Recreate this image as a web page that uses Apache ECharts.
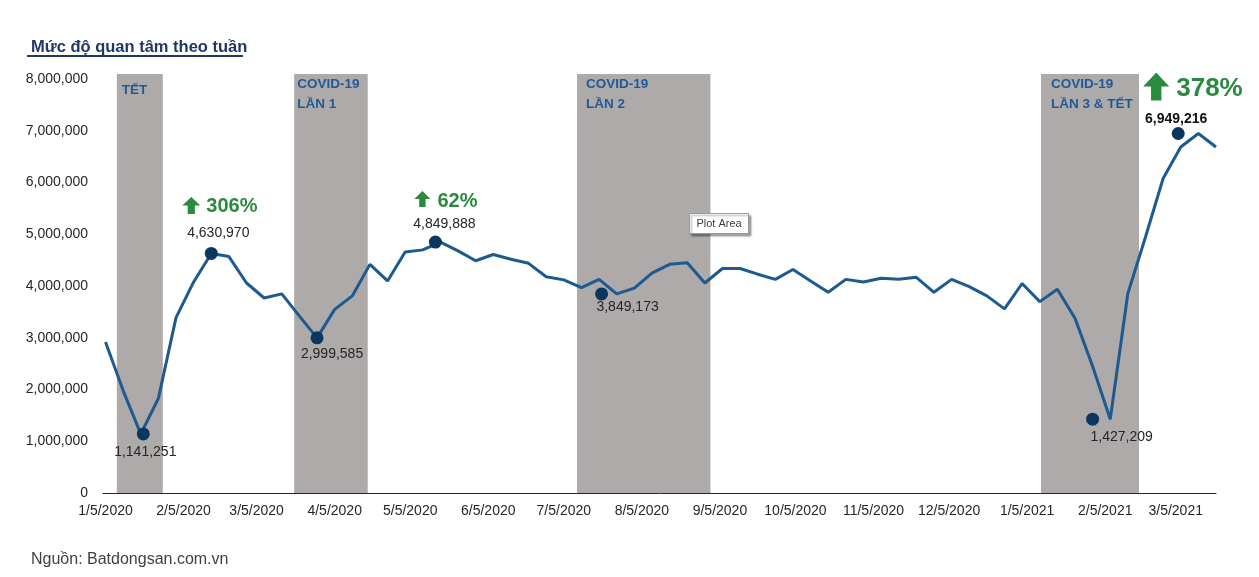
<!DOCTYPE html>
<html><head><meta charset="utf-8">
<script src="https://cdn.jsdelivr.net/npm/echarts@6/dist/echarts.min.js"></script>
<style>html,body{margin:0;padding:0;background:#fff}#chart{width:1259px;height:577px}</style>
</head><body><div id="chart"></div>
<script>
// ---------------- DATA ----------------
const weekDates = [
  '2020-01-05','2020-01-12','2020-01-19','2020-01-26','2020-02-02','2020-02-09','2020-02-16','2020-02-23',
  '2020-03-01','2020-03-08','2020-03-15','2020-03-22','2020-03-29','2020-04-05','2020-04-12','2020-04-19',
  '2020-04-26','2020-05-03','2020-05-10','2020-05-17','2020-05-24','2020-05-31','2020-06-07','2020-06-14',
  '2020-06-21','2020-06-28','2020-07-05','2020-07-12','2020-07-19','2020-07-26','2020-08-02','2020-08-09',
  '2020-08-16','2020-08-23','2020-08-30','2020-09-06','2020-09-13','2020-09-20','2020-09-27','2020-10-04',
  '2020-10-11','2020-10-18','2020-10-25','2020-11-01','2020-11-08','2020-11-15','2020-11-22','2020-11-29',
  '2020-12-06','2020-12-13','2020-12-20','2020-12-27','2021-01-03','2021-01-10','2021-01-17','2021-01-24',
  '2021-01-31','2021-02-07','2021-02-14','2021-02-21','2021-02-28','2021-03-07','2021-03-14','2021-03-21'
];
const weeklyInterest = [
  2920000, 1980000, 1141251, 1830000, 3390000, 4080000, 4630970, 4570000,
  4060000, 3770000, 3850000, 3420000, 2999585, 3550000, 3810000, 4420000,
  4100000, 4660000, 4700000, 4849888, 4680000, 4490000, 4610000, 4520000,
  4440000, 4180000, 4120000, 3970000, 4130000, 3849173, 3960000, 4250000,
  4420000, 4450000, 4060000, 4340000, 4340000, 4230000, 4130000, 4320000,
  4100000, 3880000, 4130000, 4080000, 4150000, 4130000, 4170000, 3880000,
  4130000, 3990000, 3810000, 3560000, 4050000, 3700000, 3940000, 3380000,
  2450000, 1427209, 3860000, 4950000, 6080000, 6690000, 6949216, 6690000
];
// highlighted points (dots with value labels)
const markerDates  = ['2020-01-20','2020-02-16','2020-03-29','2020-05-15','2020-07-20','2021-01-31','2021-03-06'];
const markerValues = [1141251, 4630970, 2999585, 4849888, 3849173, 1427209, 6949216];
// growth callouts (attached to marker index)
const growthMarkerIdx = [1, 3, 6];
const growthText = ['306%', '62%', '378%'];
// shaded periods
const periodNames = ['TẾT', 'COVID-19\nLẦN 1', 'COVID-19\nLẦN 2', 'COVID-19\nLẦN 3 & TẾT'];
const periodStart = ['2020-01-09 12:00', '2020-03-19 22:00', '2020-07-10 06:00', '2021-01-10 12:00'];
const periodEnd   = ['2020-01-27 18:00', '2020-04-18 03:00', '2020-09-01 05:00', '2021-02-18 10:00'];
// x tick labels
const xTickDates = ['2020-01-05','2020-02-05','2020-03-05','2020-04-05','2020-05-05','2020-06-05','2020-07-05',
  '2020-08-05','2020-09-05','2020-10-05','2020-11-05','2020-12-05','2021-01-05','2021-02-05','2021-03-05'];
const xMin = '2020-01-04';
const xMax = '2021-03-21';
const yMax = 8100000;

// ---------------- HELPERS / STYLES ----------------
function ts(s) {
  const m = s.match(/(\d+)-(\d+)-(\d+)(?:[ T](\d+):(\d+))?/);
  return Date.UTC(+m[1], +m[2] - 1, +m[3], m[4] ? +m[4] : 0, m[5] ? +m[5] : 0);
}
const fmt = v => Number(v).toLocaleString('en-US');
const FONT = '"Liberation Sans", Arial, sans-serif';
const BLUE_LINE = '#1C5A90';
const DOT = '#0B365F';
const GREEN = '#2A8A3E';
const BAND_TXT = '#1F5A96';

const markerLabelStyle = [
  {position: 'bottom', distance: 5, offset: [2, 0]},
  {position: 'top', distance: 7, offset: [7, 0]},
  {position: 'bottom', distance: 3, offset: [15, 0]},
  {position: 'top', distance: 4, offset: [9, 0]},
  {position: 'bottom', distance: 0, offset: [26, 0]},
  {position: 'bottom', distance: 4, offset: [29, 0]},
  {position: 'top', distance: 1, offset: [-2, 0], fontWeight: 'bold', color: '#111'}
];
const arrowStyle = [
  {size: [18, 17], offset: [-20, -48], fontSize: 20, distance: 6, loff: [0, 1]},
  {size: [16, 16], offset: [-13, -43], fontSize: 20, distance: 7, loff: [0, 2]},
  {size: [26, 28], offset: [-22, -47], fontSize: 26, distance: 7, loff: [0, 2]}
];
const bandLabelOffset = [[5, 6], [3, 0], [9, 0], [10, 0]];

const ARROW = 'path://M10,0 L20,10 L14,10 L14,20 L6,20 L6,10 L0,10 Z';

const chart = echarts.init(document.getElementById('chart'), null, {renderer: 'canvas'});

const lineData = weekDates.map((d, i) => [ts(d), weeklyInterest[i]]);
const markerData = markerDates.map((d, i) => ({
  value: [ts(d), markerValues[i]],
  label: Object.assign({}, markerLabelStyle[i])
}));
const arrowData = growthMarkerIdx.map((mi, k) => ({
  value: [ts(markerDates[mi]), markerValues[mi]],
  symbolSize: arrowStyle[k].size,
  symbolOffset: arrowStyle[k].offset,
  label: {formatter: growthText[k], fontSize: arrowStyle[k].fontSize, distance: arrowStyle[k].distance, offset: arrowStyle[k].loff}
}));
const bandData = periodNames.map((n, i) => [
  {name: n, xAxis: ts(periodStart[i]), yAxis: 0, label: {offset: bandLabelOffset[i]}},
  {xAxis: ts(periodEnd[i]), yAxis: yMax}
]);

chart.setOption({
  animation: false,
  backgroundColor: '#fff',
  textStyle: {fontFamily: FONT},
  grid: {left: 103, right: 43, top: 74, bottom: 84},
  xAxis: {
    type: 'value',
    min: ts(xMin), max: ts(xMax),
    axisLine: {show: true, lineStyle: {color: '#262626', width: 1}},
    axisTick: {show: false},
    splitLine: {show: false},
    axisLabel: {
      customValues: xTickDates.map(ts),
      formatter: v => { const d = new Date(v); return (d.getUTCMonth() + 1) + '/' + d.getUTCDate() + '/' + d.getUTCFullYear(); },
      color: '#262626', fontSize: 14, margin: 11, fontFamily: FONT, hideOverlap: false
    }
  },
  yAxis: {
    type: 'value', min: 0, max: yMax, interval: 1000000,
    axisLine: {show: false}, axisTick: {show: false}, splitLine: {show: false},
    axisLabel: {formatter: v => fmt(v), color: '#262626', fontSize: 14, margin: 15, showMaxLabel: false, fontFamily: FONT}
  },
  title: [
    {text: 'Mức độ quan tâm theo tuần', left: 26, top: 34,
     textStyle: {fontSize: 16.5, fontWeight: 'bold', color: '#1F3864', fontFamily: FONT}},
    {text: 'Nguồn: Batdongsan.com.vn', left: 26, top: 547,
     textStyle: {fontSize: 16, fontWeight: 'normal', color: '#404040', fontFamily: FONT}}
  ],
  graphic: [
    {type: 'line', z: 100, shape: {x1: 27, y1: 56, x2: 243, y2: 56}, style: {stroke: '#1F3864', lineWidth: 2}},
    {type: 'group', z: 100, left: 689, top: 213, children: [
      {type: 'rect', z: 100, shape: {x: 0, y: 0, width: 59, height: 20},
       style: {fill: '#fff', stroke: '#9a9a9a', lineWidth: 1, shadowColor: 'rgba(0,0,0,0.35)', shadowOffsetX: 2, shadowOffsetY: 2, shadowBlur: 2}},
      {type: 'text', z: 101, x: 29.5, y: 10, style: {text: 'Plot Area', fill: '#404040', fontSize: 11, fontFamily: FONT, align: 'center', verticalAlign: 'middle'}}
    ]}
  ],
  series: [
    {
      type: 'line', name: 'weekly', data: lineData, showSymbol: false, symbol: 'none',
      lineStyle: {color: BLUE_LINE, width: 3}, z: 3,
      markArea: {
        silent: true,
        itemStyle: {color: '#AEAAAA', opacity: 1},
        label: {show: true, position: 'insideTopLeft', distance: 0, color: BAND_TXT, fontWeight: 'bold',
                fontSize: 13.5, lineHeight: 20, fontFamily: FONT},
        data: bandData
      }
    },
    {
      type: 'scatter', name: 'markers', data: markerData, symbol: 'circle', symbolSize: 13,
      itemStyle: {color: DOT, opacity: 1}, z: 5,
      label: {show: true, formatter: p => fmt(p.value[1]), color: '#262626', fontSize: 14, fontFamily: FONT}
    },
    {
      type: 'scatter', name: 'growth', data: arrowData, symbol: ARROW,
      itemStyle: {color: GREEN, opacity: 1}, z: 5,
      label: {show: true, position: 'right', color: GREEN, fontWeight: 'bold', fontFamily: FONT}
    }
  ]
});
</script></body></html>
